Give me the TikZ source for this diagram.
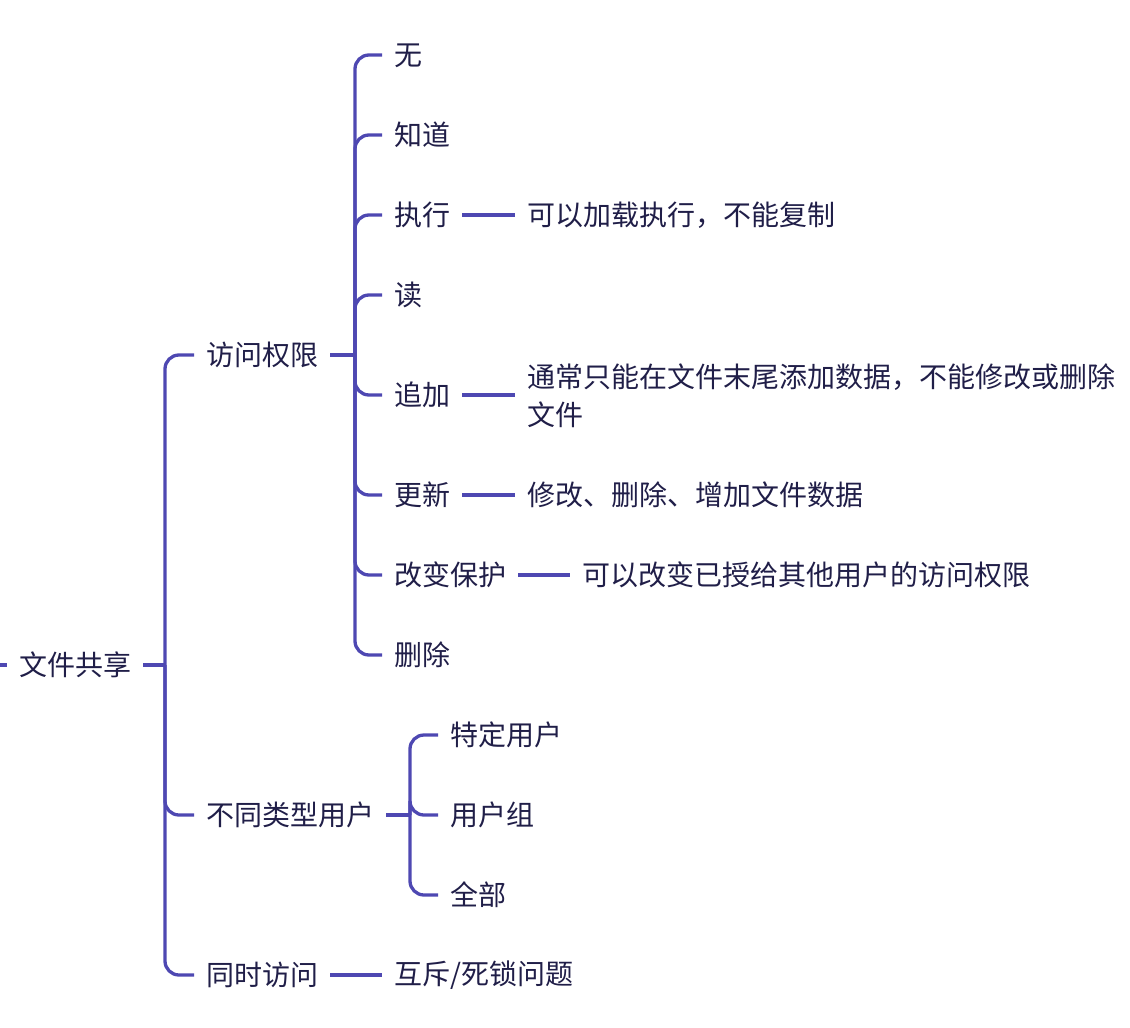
\documentclass[tikz,border=0pt]{standalone}
\usepackage{fontspec}
\newfontfamily\cjk{Noto Sans CJK SC}
\definecolor{linec}{RGB}{78,72,178}
\definecolor{inkc}{RGB}{32,30,72}
\newcommand{\zs}{\rule[-3pt]{0pt}{27pt}}
\tikzset{
  txt/.style={anchor=west, inner xsep=12pt, inner ysep=0pt, text=inkc,
    font=\cjk\fontsize{28pt}{38pt}\selectfont, execute at begin node=\zs},
  conn/.style={draw=linec, line width=3.3pt, rounded corners=14pt}
}
\begin{document}
\begin{tikzpicture}[x=1pt,y=-1pt]
\useasboundingbox (0,0) rectangle (1130,1028);
% nodes
\node[txt] (root) at (7,665) {文件共享};
\node[txt] (a) at (194,355) {访问权限};
\node[txt] (b) at (194,815) {不同类型用户};
\node[txt] (c) at (194,975) {同时访问};
\node[txt] (a1) at (382,55) {无};
\node[txt] (a2) at (382,135) {知道};
\node[txt] (a3) at (382,215) {执行};
\node[txt] (a4) at (382,295) {读};
\node[txt] (a5) at (382,395) {追加};
\node[txt] (a6) at (382,495) {更新};
\node[txt] (a7) at (382,575) {改变保护};
\node[txt] (a8) at (382,655) {删除};
\node[txt] (b1) at (438,735) {特定用户};
\node[txt] (b2) at (438,815) {用户组};
\node[txt] (b3) at (438,895) {全部};
\node[txt] (c1) at (382,975) {互斥/死锁问题};
\node[txt] (a3x) at (515,215) {可以加载执行，不能复制};
\node[txt, align=left] (a5x) at (515,396) {通常只能在文件末尾添加数据，不能修改或删除\\文件\zs};
\node[txt] (a6x) at (515,495) {修改、删除、增加文件数据};
\node[txt] (a7x) at (570,575) {可以改变已授给其他用户的访问权限};
% junctions
\coordinate (in0) at (0,665);
\coordinate (j0) at (165,665);
\coordinate (ja) at (355,355);
\coordinate (jb) at (410,815);
% connectors
\draw[conn] (in0) -- (root.west);
\draw[conn] (root.east) -- (j0);
\foreach \k in {a,b,c} \draw[conn] (j0) |- (\k.west);
\draw[conn] (a.east) -- (ja);
\foreach \k in {a1,a2,a3,a4,a5,a6,a7,a8} \draw[conn] (ja) |- (\k.west);
\draw[conn] (b.east) -- (jb);
\foreach \k in {b1,b2,b3} \draw[conn] (jb) |- (\k.west);
\draw[conn] (c.east) -- (c1.west);
\draw[conn] (a3.east) -- (a3x.west);
\draw[conn] (a5.east) -- (a5x.west |- a5.east);
\draw[conn] (a6.east) -- (a6x.west);
\draw[conn] (a7.east) -- (a7x.west);
\end{tikzpicture}
\end{document}
